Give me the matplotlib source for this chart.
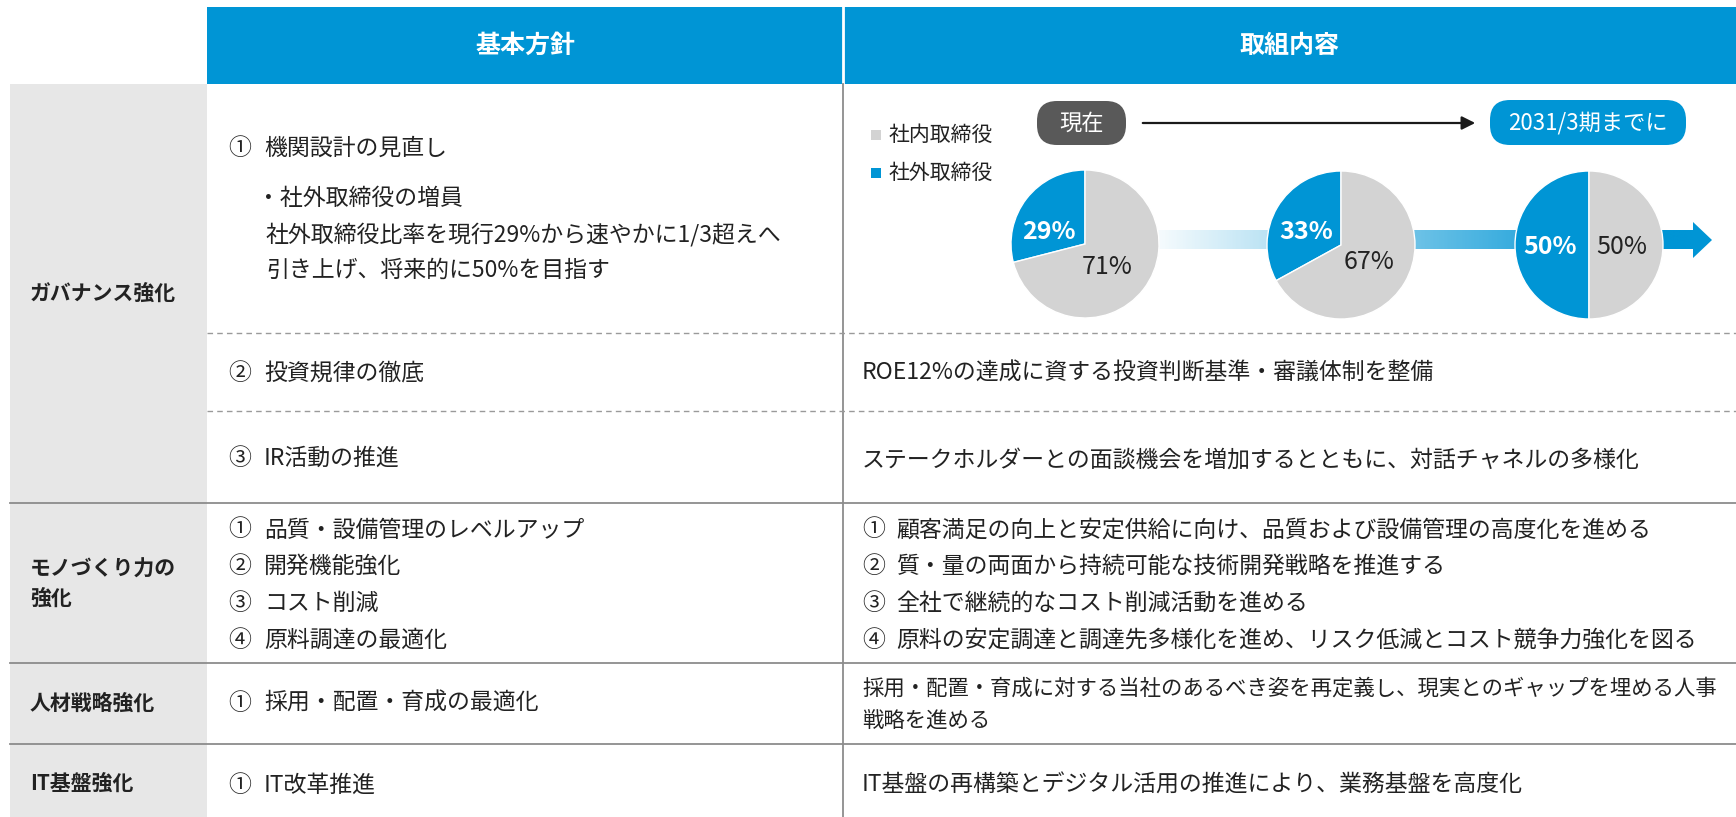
import matplotlib.pyplot as plt
import numpy as np
from matplotlib.colors import LinearSegmentedColormap
from matplotlib.patches import FancyBboxPatch, Polygon, Rectangle

plt.rcParams['font.family'] = ['Noto Sans CJK JP', 'DejaVu Sans']

# 画像サイズ (px)
W, H = 1736, 817

BLUE = '#0095D5'
COL_GRAY = '#E7E7E7'
PIE_GRAY = '#D3D3D3'
TXT = '#222222'
LINE = '#8C8C8C'

# ---- データ ----
headers = ['基本方針', '取組内容']
categories = ['ガバナンス強化', 'モノづくり力の\n強化', '人材戦略強化', 'IT基盤強化']

gov_policy_1 = ['① 機関設計の見直し']
gov_policy_1_sub = ['・社外取締役の増員',
                    '社外取締役比率を現行29%から速やかに1/3超えへ',
                    '引き上げ、将来的に50%を目指す']
gov_policy = ['② 投資規律の徹底', '③ IR活動の推進']
gov_action = ['ROE12%の達成に資する投資判断基準・審議体制を整備',
              'ステークホルダーとの面談機会を増加するとともに、対話チャネルの多様化']

mono_policy = ['① 品質・設備管理のレベルアップ', '② 開発機能強化',
               '③ コスト削減', '④ 原料調達の最適化']
mono_action = ['① 顧客満足の向上と安定供給に向け、品質および設備管理の高度化を進める',
               '② 質・量の両面から持続可能な技術開発戦略を推進する',
               '③ 全社で継続的なコスト削減活動を進める',
               '④ 原料の安定調達と調達先多様化を進め、リスク低減とコスト競争力強化を図る']

hr_policy = ['① 採用・配置・育成の最適化']
hr_action = ['採用・配置・育成に対する当社のあるべき姿を再定義し、現実とのギャップを埋める人事',
             '戦略を進める']

it_policy = ['① IT改革推進']
it_action = ['IT基盤の再構築とデジタル活用の推進により、業務基盤を高度化']

# 取締役構成 (%)
legend_labels = ['社内取締役', '社外取締役']
outside_pct = [29, 33, 50]
inside_pct = [71, 67, 50]
time_labels = ['現在', '2031/3期までに']

# ---- レイアウト ----
fig = plt.figure(figsize=(W / 100, H / 100), dpi=100)
ax = fig.add_axes([0, 0, 1, 1])

X_CAT, X_POL, X_ACT = 10, 207, 843
HEAD_TOP, HEAD_BOT = 7, 84
FS = 16.5

# ヘッダー
ax.add_patch(Rectangle((X_POL, HEAD_TOP), W - X_POL, HEAD_BOT - HEAD_TOP, color=BLUE, lw=0))
ax.plot([X_ACT, X_ACT], [HEAD_TOP, HEAD_BOT], color='white', lw=2)
ax.text((X_POL + X_ACT) / 2, 46, headers[0], color='white', fontsize=18,
        fontweight='bold', ha='center', va='center')
ax.text((X_ACT + W) / 2, 46, headers[1], color='white', fontsize=18,
        fontweight='bold', ha='center', va='center')

# 左の分類列
ax.add_patch(Rectangle((X_CAT, HEAD_BOT), X_POL - X_CAT, H - HEAD_BOT, color=COL_GRAY, lw=0))
ax.plot([X_ACT, X_ACT], [HEAD_BOT, H], color=LINE, lw=1.3)

# 区切り線
for y in [503, 663, 744]:
    ax.plot([X_CAT, W], [y, y], color=LINE, lw=1.3)
for y in [333, 411]:
    ax.plot([X_POL, W], [y, y], color='#9A9A9A', lw=1, ls=(0, (4, 3)))

# 分類ラベル
cat_y = [293, 584, 703, 783]
for lab, y in zip(categories, cat_y):
    ax.text(30, y, lab, fontsize=15, fontweight='bold', color=TXT,
            ha='left', va='center', linespacing=1.45)


def put(x, y, s, fs=FS):
    ax.text(x, y, s, fontsize=fs, color=TXT, ha='left', va='center')


def item(x, y, s, gap=36):
    # 丸数字と本文を分けて配置
    num, body = s.split(' ', 1)
    put(x, y, num)
    put(x + gap, y, body)


# ガバナンス
item(228, 148, gov_policy_1[0])
for s, y, x in zip(gov_policy_1_sub, [198, 235, 270], [257, 266, 266]):
    put(x, y, s)
for s, y in zip(gov_policy, [373, 458]):
    item(228, y, s)
for s, y in zip(gov_action, [373, 460]):
    put(862, y, s)

# モノづくり
for i, (p, a) in enumerate(zip(mono_policy, mono_action)):
    y = 530 + i * 36.7
    item(228, y, p)
    item(862, y, a, gap=34)

# 人材
item(228, 703, hr_policy[0])
for s, y in zip(hr_action, [689, 722]):
    put(862, y, s, fs=15.4)

# IT
item(228, 785, it_policy[0])
put(862, 785, it_action[0])

# ---- 取締役構成の図 ----
# 凡例
for lab, c, y in zip(legend_labels, [PIE_GRAY, BLUE], [135, 173]):
    ax.add_patch(Rectangle((871, y - 5), 10, 10, color=c, lw=0))
    ax.text(889, y, lab, fontsize=15, color=TXT, ha='left', va='center')

# 時間軸
ax.add_patch(FancyBboxPatch((1037, 101), 89, 44, boxstyle='round,pad=0,rounding_size=20',
                            fc='#595959', ec='none'))
ax.text(1081.5, 123, time_labels[0], color='white', fontsize=16, ha='center', va='center')
ax.add_patch(FancyBboxPatch((1490, 100), 196, 45, boxstyle='round,pad=0,rounding_size=20',
                            fc=BLUE, ec='none'))
ax.text(1588, 122.5, time_labels[1], color='white', fontsize=16, ha='center', va='center')
ax.annotate('', xy=(1478, 123), xytext=(1140, 123),
            arrowprops=dict(arrowstyle='-|>', color='#1A1A1A', lw=1.6, mutation_scale=20))

# グラデーション矢印
cmap = LinearSegmentedColormap.from_list('wb', ['#FFFFFF', BLUE])
grad = np.clip((np.linspace(1085, 1694, 400) - 1140) / 480, 0, 1)[None, :]
ax.imshow(grad, cmap=cmap, vmin=0, vmax=1, extent=(1085, 1694, 249, 230),
          aspect='auto', interpolation='bilinear', zorder=1)
ax.add_patch(Polygon([(1693, 222), (1712, 240), (1693, 258)], closed=True,
                     fc=BLUE, ec='none', zorder=1))

# 円グラフ
centers = [(1085, 244), (1341, 245), (1589, 245)]
off_out = [(-36, -12), (-35, -13), (-39, 2)]
off_in = [(22, 23), (28, 17), (33, 2)]
for (cx, cy), o, n, oo, oi in zip(centers, outside_pct, inside_pct, off_out, off_in):
    wedges, _ = ax.pie([o, n], colors=[BLUE, PIE_GRAY], center=(cx, cy), radius=74,
                       startangle=-90, counterclock=False, frame=True,
                       wedgeprops=dict(edgecolor='white', linewidth=1))
    for w in wedges:
        w.set_zorder(3)
    ax.text(cx + oo[0], cy + oo[1], f'{o}%', color='white', fontsize=18,
            fontweight='bold', ha='center', va='center', zorder=4)
    ax.text(cx + oi[0], cy + oi[1], f'{n}%', color=TXT, fontsize=18,
            ha='center', va='center', zorder=4)

ax.set_xlim(0, W)
ax.set_ylim(H, 0)
ax.set_aspect('auto')
ax.axis('off')

fig.savefig('out.png', dpi=100)
